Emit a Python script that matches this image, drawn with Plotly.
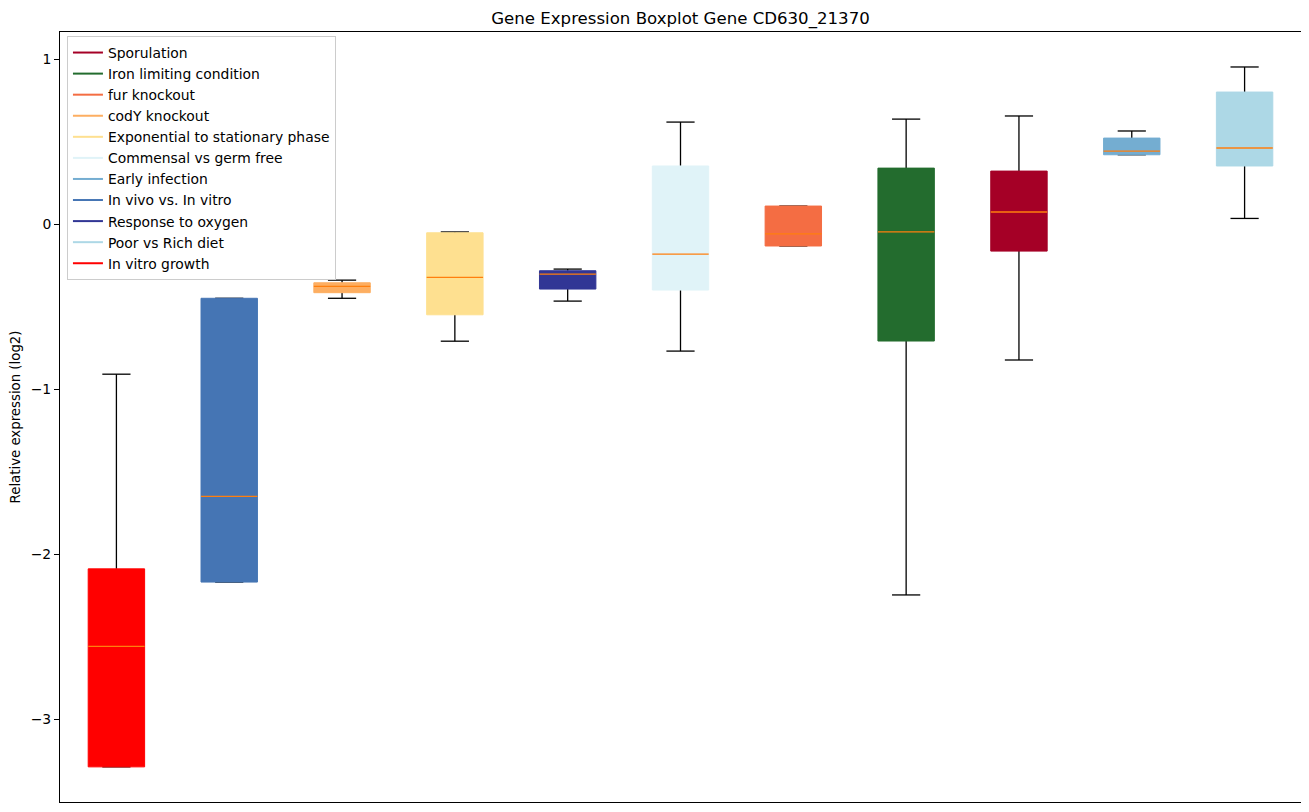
import plotly.graph_objects as go

title = "Gene Expression Boxplot Gene CD630_21370"
y_label = "Relative expression (log2)"

# boxes in left-to-right order
box_names = ["In vitro growth", "In vivo vs. In vitro", "codY knockout",
             "Exponential to stationary phase", "Response to oxygen",
             "Commensal vs germ free", "fur knockout", "Iron limiting condition",
             "Sporulation", "Early infection", "Poor vs Rich diet"]
box_colors = ["#ff0000", "#4575b4", "#fdae61", "#fee090", "#313695",
              "#e0f3f8", "#f46d43", "#236c2e", "#a50026", "#74add1", "#add8e6"]
whisker_low = [-3.29, -2.17, -0.45, -0.71, -0.467, -0.77, -0.133, -2.248, -0.824, 0.42, 0.034]
q1 = [-3.29, -2.17, -0.416, -0.55, -0.394, -0.40, -0.133, -0.709, -0.164, 0.42, 0.352]
median = [-2.56, -1.65, -0.378, -0.323, -0.303, -0.182, -0.06, -0.048, 0.073, 0.442, 0.461]
q3 = [-2.09, -0.45, -0.356, -0.053, -0.283, 0.352, 0.109, 0.339, 0.321, 0.521, 0.80]
whisker_high = [-0.91, -0.45, -0.34, -0.048, -0.273, 0.618, 0.109, 0.636, 0.655, 0.564, 0.952]

# legend order
legend_names = ["Sporulation", "Iron limiting condition", "fur knockout", "codY knockout",
                "Exponential to stationary phase", "Commensal vs germ free", "Early infection",
                "In vivo vs. In vitro", "Response to oxygen", "Poor vs Rich diet", "In vitro growth"]

y_ticks = [-3, -2, -1, 0, 1]

positions = list(range(1, len(box_names) + 1))
half_w = 0.25
cap_w = 0.125

fig = go.Figure()

# whiskers and caps
wx, wy = [], []
for p, lo, a, b, hi in zip(positions, whisker_low, q1, q3, whisker_high):
    wx += [p, p, None, p, p, None, p - cap_w, p + cap_w, None, p - cap_w, p + cap_w, None]
    wy += [lo, a, None, b, hi, None, lo, lo, None, hi, hi, None]
fig.add_trace(go.Scatter(x=wx, y=wy, mode="lines", line=dict(color="black", width=1.3),
                         showlegend=False, hoverinfo="skip"))

# boxes
for p, a, b, c, n in zip(positions, q1, q3, box_colors, box_names):
    fig.add_trace(go.Scatter(
        x=[p - half_w, p + half_w, p + half_w, p - half_w, p - half_w],
        y=[a, a, b, b, a], mode="lines", fill="toself", fillcolor=c,
        line=dict(color=c, width=1), showlegend=False, name=n, hoverinfo="skip"))

# medians
mx, my = [], []
for p, m in zip(positions, median):
    mx += [p - half_w, p + half_w, None]
    my += [m, m, None]
fig.add_trace(go.Scatter(x=mx, y=my, mode="lines", line=dict(color="#ff7f0e", width=1.3),
                         showlegend=False, hoverinfo="skip"))

# legend entries
color_of = dict(zip(box_names, box_colors))
for i, n in enumerate(legend_names):
    fig.add_trace(go.Scatter(x=[None], y=[None], mode="lines", name=n,
                             line=dict(color=color_of[n], width=2),
                             legendgroup="g%d" % i))

W, H = 1301, 804
fig.update_layout(
    width=W, height=H,
    margin=dict(l=52, r=8, t=24, b=10, autoexpand=False),
    paper_bgcolor="white", plot_bgcolor="white",
    font=dict(family="DejaVu Sans", size=13.9, color="black"),
    title=dict(text=title, x=(52 + (W - 8 - 52) / 2) / W, xanchor="center",
               y=1 - 10 / H, yanchor="middle", font=dict(size=16.6)),
    legend=dict(x=0.0056, y=0.9948, xanchor="left", yanchor="top",
                bgcolor="rgba(255,255,255,0.8)", bordercolor="#cccccc", borderwidth=1,
                font=dict(size=13.9), itemwidth=30, tracegroupgap=0),
    showlegend=True,
)
fig.update_xaxes(range=[0.5, 11.5], showticklabels=False, ticks="", showgrid=False,
                 zeroline=False, showline=True, linecolor="black", linewidth=1, mirror=True)
fig.update_yaxes(range=[-3.503, 1.164], tickvals=y_ticks,
                 ticktext=[("\u2212%d" % -v) if v < 0 else str(v) for v in y_ticks],
                 ticks="outside", ticklen=5, tickcolor="black", showgrid=False,
                 zeroline=False, showline=True, linecolor="black", linewidth=1, mirror=True,
                 automargin=False,
                 title=dict(text=y_label, standoff=10, font=dict(size=13.3)),
                 tickfont=dict(size=13.9))

fig.write_html("out.html")
